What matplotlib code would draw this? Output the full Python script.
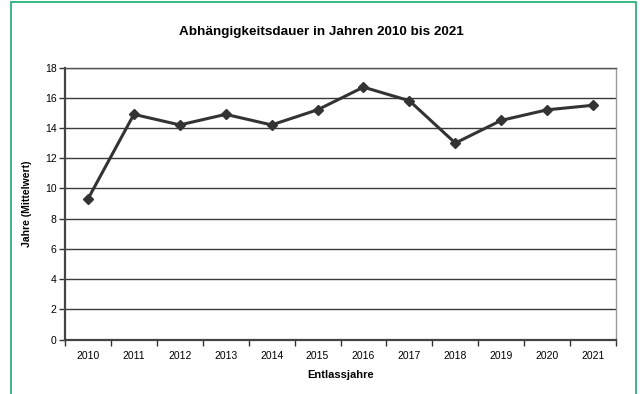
import matplotlib.pyplot as plt
from matplotlib.patches import Rectangle
import numpy as np

years = ["2010", "2011", "2012", "2013", "2014", "2015",
         "2016", "2017", "2018", "2019", "2020", "2021"]
dauer = [9.3, 14.9, 14.2, 14.9, 14.2, 15.2, 16.7, 15.8, 13.0, 14.5, 15.2, 15.5]

plt.rcParams['font.family'] = ['Liberation Sans', 'DejaVu Sans']

fig = plt.figure(figsize=(6.42, 3.94), dpi=100)
ax = fig.add_axes([65/642, 1 - 339.5/394, 551/642, 272/394])

# green frame around the whole chart (bottom edge lies outside the picture)
fig.patches.append(Rectangle((11/642, -0.05), 625/642, 1.05 - 2.5/394,
                             transform=fig.transFigure, fill=False,
                             edgecolor='#2ab27b', linewidth=1.3))

x = np.arange(len(years))
ax.plot(x, dauer, color='#333333', linewidth=2.2, marker='D',
        markersize=5.5, zorder=3)

ax.set_xlim(-0.5, len(years) - 0.5)
ax.set_ylim(0, 18)
ax.set_yticks(np.arange(0, 19, 2))
ax.set_xticks(x)
ax.set_xticklabels(years)
ax.set_xticks(np.arange(-0.5, len(years), 1), minor=True)
ax.tick_params(axis='x', which='major', length=0, pad=8, labelsize=7.5)
ax.tick_params(axis='x', which='minor', length=4, width=1, color='#333333')
ax.tick_params(axis='y', length=4, width=1, color='#333333', labelsize=7.5, pad=2)

ax.yaxis.grid(True, color='#3a3a3a', linewidth=1)
ax.set_axisbelow(True)
for s in ['left', 'bottom']:
    ax.spines[s].set_color('#444444')
    ax.spines[s].set_linewidth(1.6)
ax.spines['right'].set_color('#999999')
ax.spines['right'].set_linewidth(1)
ax.spines['top'].set_color('#555555')
ax.spines['top'].set_linewidth(1)

ax.set_ylabel("Jahre (Mittelwert)", fontsize=7.5, fontweight='bold', labelpad=9)
ax.set_xlabel("Entlassjahre", fontsize=8, fontweight='bold', labelpad=7)
fig.text(0.5, 1 - 32/394, "Abhängigkeitsdauer in Jahren 2010 bis 2021",
         ha='center', va='center', fontsize=9.7, fontweight='bold')

plt.savefig("out.png", dpi=100)
